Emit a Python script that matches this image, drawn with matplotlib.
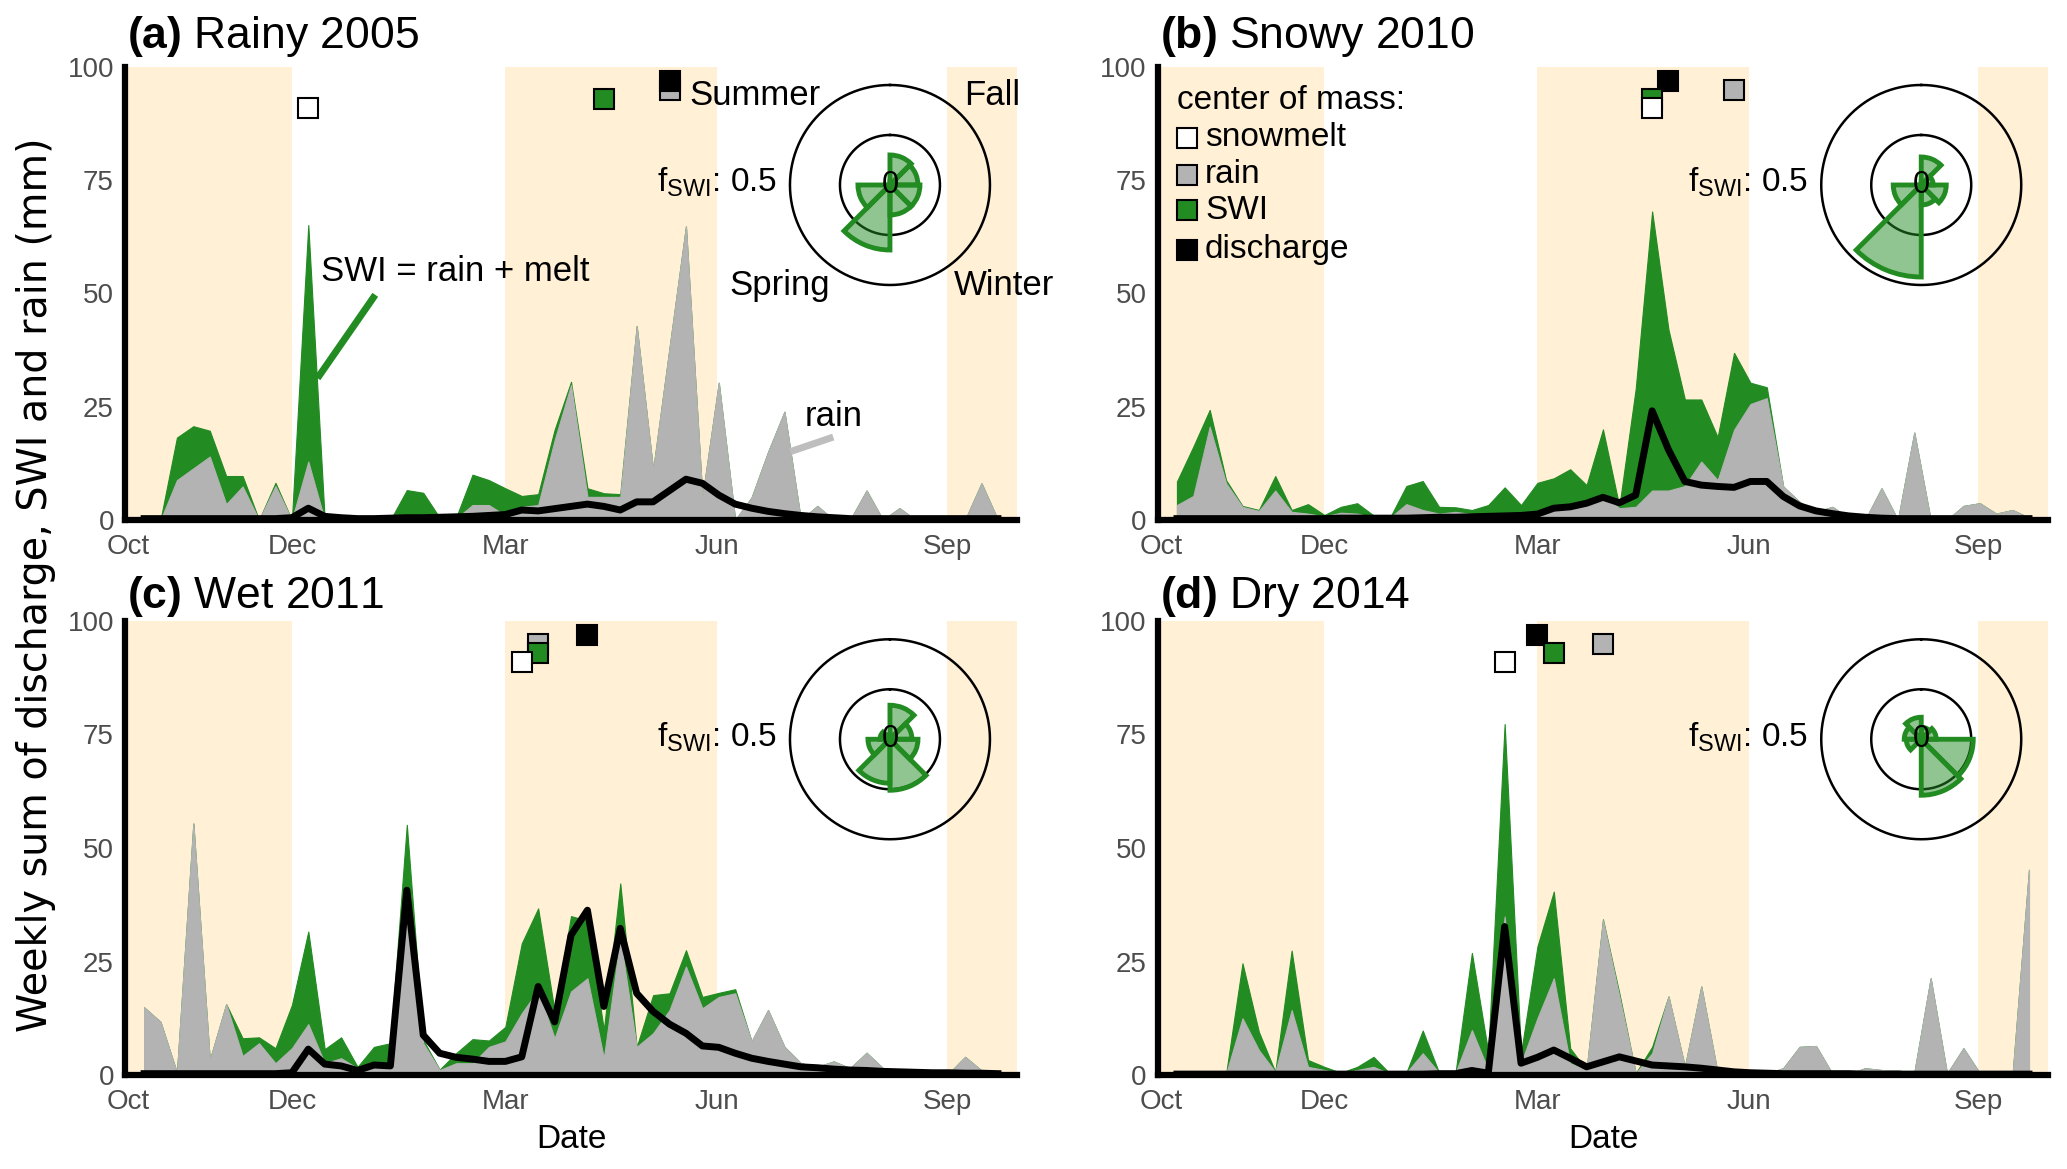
import numpy as np
import matplotlib.pyplot as plt

plt.rcParams['font.family'] = ['Liberation Sans', 'DejaVu Sans']
plt.rcParams['mathtext.fontset'] = 'custom'
plt.rcParams['mathtext.rm'] = 'Liberation Sans'
plt.rcParams['mathtext.bf'] = 'Liberation Sans:bold'
plt.rcParams['mathtext.it'] = 'Liberation Sans:italic'

GREEN = '#228b22'
LIGHT_GREEN = (0.133, 0.545, 0.133, 0.5)
GREY = '#b3b3b3'
SEASON = '#fff0d6'
TICK_GREY = '#4d4d4d'

FIG_W, FIG_H = 2067, 1169

# weekly sums over the water year (week 0 = first week of Oct)
weeks = np.arange(53)
month_ticks = [-0.95, 9.0, 22.0, 34.9, 48.9]
month_labels = ['Oct', 'Dec', 'Mar', 'Jun', 'Sep']

# (a) Rainy 2005
rain_2005 = [0, 0, 8.8, 11.4, 14.0, 3.5, 7.4, 0, 7.5, 0,
             12.9, 0, 0, 0, 0, 0, 0.5, 0.5, 0.3, 0.3,
             3.3, 3.3, 1.0, 2.9, 3.3, 17.6, 29.8, 5.1, 5.1, 5.1,
             42.8, 11.0, 38.0, 64.8, 5.0, 30.3, 0, 5.0, 15.0, 23.9,
             0, 3.1, 0, 0, 6.5, 0, 2.6, 0, 0, 0,
             0, 8.1, 0]
swi_2005 = [0, 0, 18.2, 20.7, 19.7, 9.7, 9.7, 0, 8.2, 0,
            65.1, 0, 0, 0, 0, 0, 6.6, 6.0, 0.5, 0.5,
            10.0, 8.8, 7.0, 5.3, 5.7, 19.9, 30.5, 7.0, 5.9, 5.7,
            42.8, 11.0, 38.0, 64.8, 5.0, 30.3, 0, 5.0, 15.0, 23.9,
            0, 3.1, 0, 0, 6.5, 0, 2.6, 0, 0, 0,
            0, 8.1, 0]
q_2005 = [0.3, 0.3, 0.3, 0.3, 0.3, 0.3, 0.3, 0.3, 0.3, 0.5,
          2.6, 0.8, 0.5, 0.3, 0.3, 0.4, 0.5, 0.5, 0.6, 0.7,
          0.8, 1.0, 1.2, 2.2, 2.0, 2.5, 3.0, 3.5, 3.0, 2.2,
          4.0, 4.0, 6.5, 9.0, 8.1, 5.5, 3.5, 2.6, 1.9, 1.4,
          1.0, 0.7, 0.5, 0.3, 0.3, 0.3, 0.3, 0.3, 0.3, 0.3,
          0.3, 0.3, 0.3]

# (b) Snowy 2010
rain_2010 = [3.3, 5.3, 20.6, 8.1, 2.9, 2.0, 6.5, 1.8, 1.4, 0.8,
             1.6, 1.4, 0.5, 0.5, 3.5, 2.2, 1.4, 1.8, 1.3, 1.3,
             1.2, 1.3, 1.8, 2.9, 3.3, 4.0, 5.5, 2.6, 2.9, 6.5,
             6.5, 7.5, 12.9, 8.8, 19.9, 25.6, 26.9, 7.4, 4.0, 1.8,
             2.9, 0.5, 0, 7.0, 0, 19.3, 0, 0, 3.1, 3.7,
             1.4, 2.2, 0.5]
swi_2010 = [8.5, 16.2, 24.3, 8.8, 3.1, 2.2, 9.7, 2.2, 3.5, 1.1,
            2.9, 3.7, 1.0, 0.5, 7.5, 8.6, 2.9, 2.8, 2.2, 3.3,
            7.2, 3.3, 8.2, 9.2, 11.2, 7.7, 20.0, 3.0, 29.0, 68.1,
            42.0, 26.6, 26.6, 18.3, 36.9, 30.3, 29.3, 7.4, 4.0, 1.8,
            2.9, 0.5, 0, 7.0, 0, 19.3, 0, 0, 3.1, 3.7,
            1.4, 2.2, 0.5]
q_2010 = [0.3, 0.3, 0.3, 0.3, 0.3, 0.3, 0.3, 0.3, 0.3, 0.3,
          0.4, 0.4, 0.4, 0.4, 0.4, 0.5, 0.6, 0.6, 0.7, 0.8,
          0.9, 1.0, 1.3, 2.6, 2.9, 3.7, 5.0, 3.8, 5.5, 24.1,
          15.5, 8.5, 7.7, 7.4, 7.2, 8.5, 8.5, 5.2, 3.1, 2.0,
          1.4, 0.9, 0.6, 0.4, 0.3, 0.3, 0.3, 0.3, 0.3, 0.3,
          0.3, 0.3, 0.3]

# (c) Wet 2011
rain_2011 = [14.9, 11.7, 0.5, 55.4, 3.3, 15.6, 4.2, 7.0, 2.6, 5.9,
             11.2, 2.6, 3.7, 1.5, 1.8, 2.2, 38.0, 7.0, 1.1, 2.6,
             2.6, 6.2, 7.4, 13.6, 18.7, 8.1, 18.4, 21.3, 3.7, 30.1,
             6.2, 9.2, 14.3, 23.9, 14.7, 17.2, 18.0, 7.4, 14.3, 6.2,
             2.6, 1.8, 3.0, 1.5, 4.9, 1.5, 0.5, 0.3, 0.3, 0.3,
             4.0, 1.0, 0.3]
swi_2011 = [14.9, 11.7, 0.5, 55.4, 3.3, 15.6, 8.1, 8.3, 5.9, 15.4,
            31.6, 5.7, 8.3, 1.8, 6.2, 7.0, 55.1, 7.7, 1.2, 4.8,
            7.9, 7.6, 10.6, 29.0, 36.7, 14.0, 35.0, 34.0, 9.9, 42.2,
            6.2, 17.6, 18.0, 27.5, 17.2, 18.1, 18.9, 7.4, 14.3, 6.2,
            2.6, 1.8, 3.0, 1.5, 4.9, 1.5, 0.5, 0.3, 0.3, 0.3,
            4.0, 1.0, 0.3]
q_2011 = [0.3, 0.3, 0.3, 0.3, 0.3, 0.3, 0.3, 0.3, 0.3, 0.5,
          5.7, 2.4, 2.0, 1.0, 2.2, 2.0, 40.7, 8.8, 4.8, 3.9,
          3.5, 3.0, 3.0, 4.0, 19.5, 11.7, 30.8, 36.3, 15.1, 32.3,
          18.0, 14.0, 11.2, 9.2, 6.4, 6.1, 4.8, 3.7, 3.0, 2.4,
          1.8, 1.6, 1.3, 1.1, 1.0, 0.8, 0.7, 0.6, 0.5, 0.5,
          0.4, 0.4, 0.3]

# (d) Dry 2014
rain_2014 = [0, 0, 0, 0.3, 12.5, 5.5, 0.7, 14.3, 1.8, 1.1,
             0.5, 1.1, 1.8, 0.3, 0.5, 4.8, 0.5, 0.5, 9.9, 1.1,
             34.9, 2.6, 12.5, 21.3, 2.6, 1.1, 34.1, 17.3, 0.4, 4.8,
             17.3, 1.8, 19.5, 0.4, 0.2, 0.2, 0.3, 1.5, 6.2, 6.4,
             0.3, 0.2, 1.5, 1.1, 1.0, 0.5, 21.3, 0.3, 5.9, 0.4,
             0.2, 0.2, 45.2]
swi_2014 = [0, 0, 0, 0.3, 24.6, 9.5, 0.7, 27.4, 3.3, 1.8,
            0.5, 1.8, 4.0, 0.3, 0.5, 9.8, 0.5, 0.5, 26.9, 5.0,
            77.3, 4.8, 28.3, 40.4, 5.9, 1.1, 34.3, 18.0, 0.4, 6.2,
            17.3, 1.8, 19.5, 0.4, 0.2, 0.2, 0.3, 1.5, 6.2, 6.4,
            0.3, 0.2, 1.5, 1.1, 1.0, 0.5, 21.3, 0.3, 5.9, 0.4,
            0.2, 0.2, 45.2]
q_2014 = [0.2, 0.2, 0.2, 0.2, 0.2, 0.2, 0.2, 0.2, 0.2, 0.2,
          0.2, 0.2, 0.2, 0.2, 0.2, 0.2, 0.3, 0.3, 1.0, 0.4,
          32.7, 2.6, 3.9, 5.5, 3.7, 1.8, 2.9, 4.0, 3.1, 2.2,
          2.0, 1.8, 1.5, 1.1, 0.7, 0.5, 0.4, 0.3, 0.3, 0.3,
          0.3, 0.3, 0.2, 0.2, 0.2, 0.2, 0.2, 0.2, 0.2, 0.2,
          0.2, 0.2, 0.2]

# center of mass week per panel (a, b, c, d)
com_snowmelt = [10, 29, 23, 20]
com_rain = [32, 34, 24, 26]
com_swi = [28, 29, 24, 23]
com_discharge = [32, 30, 27, 22]

# rose: fraction of SWI in 8 sectors, clockwise from Oct
rose_2005 = [0.30, 0.28, 0.30, 0.30, 0.65, 0.32, 0, 0]
rose_2010 = [0.28, 0.12, 0.25, 0.20, 0.92, 0.28, 0, 0]
rose_2011 = [0.34, 0.22, 0.28, 0.51, 0.44, 0.22, 0.10, 0.05]
rose_2014 = [0.12, 0.15, 0.52, 0.56, 0.05, 0.15, 0.17, 0.22]

XLIM = (-1.16, 53.16)
SEASONS = [(XLIM[0], 9.0), (21.95, 34.9), (48.9, XLIM[1])]
ROSE_X, ROSE_Y, ROSE_PX = 0.8576, 0.7395, 104


def add_rose(fig, ax, radii):
    box = ax.get_position()
    cx = box.x0 + ROSE_X * box.width
    cy = box.y0 + ROSE_Y * box.height
    hw, hh = ROSE_PX / FIG_W, ROSE_PX / FIG_H
    pa = fig.add_axes([cx - hw, cy - hh, 2 * hw, 2 * hh], projection='polar')
    pa.set_theta_zero_location('N')
    pa.set_theta_direction(-1)
    ring = np.linspace(0, 2 * np.pi, 361)
    pa.plot(ring, np.full_like(ring, 1.0), color='black', lw=1.8, zorder=1)
    pa.plot(ring, np.full_like(ring, 0.5), color='black', lw=1.8, zorder=1)
    theta = np.deg2rad(np.arange(8) * 45 + 22.5)
    r = np.array(radii)
    keep = r > 0
    pa.bar(theta[keep], r[keep], width=np.pi / 4, color=LIGHT_GREEN,
           edgecolor=GREEN, lw=3.5, zorder=2)
    pa.text(0, 0, '0', ha='center', va='center', fontsize=22, zorder=3)
    pa.set_ylim(0, ROSE_PX / 100)
    pa.set_axis_off()
    pa.patch.set_alpha(0)


def draw_panel(fig, ax, i, title, title_y, rain, swi, q, rose):
    for x0, x1 in SEASONS:
        ax.axvspan(x0, x1, color=SEASON, lw=0, zorder=0)
    ax.fill_between(weeks, 0, swi, color=GREEN, lw=0.8, zorder=2)
    ax.fill_between(weeks, 0, rain, color=GREY, lw=0.8, zorder=3)
    ax.plot(weeks, q, color='black', lw=5, zorder=4)

    # center of mass squares
    ax.plot(com_rain[i], 95, 's', ms=14, mfc=GREY, mec='black', mew=1.5, zorder=6)
    ax.plot(com_discharge[i], 97, 's', ms=14, mfc='black', mec='black', mew=1.5, zorder=6)
    ax.plot(com_swi[i], 93, 's', ms=14, mfc=GREEN, mec='black', mew=1.5, zorder=6)
    ax.plot(com_snowmelt[i], 91, 's', ms=14, mfc='white', mec='black', mew=1.5, zorder=6)

    ax.set_xlim(*XLIM)
    ax.set_ylim(0, 100)
    ax.set_yticks([0, 25, 50, 75, 100])
    ax.set_xticks(month_ticks)
    ax.set_xticklabels(month_labels)
    ax.tick_params(length=0, labelsize=20, labelcolor=TICK_GREY)
    ax.tick_params(axis='y', pad=8)
    ax.tick_params(axis='x', pad=10)
    for s in ['top', 'right']:
        ax.spines[s].set_visible(False)
    for s in ['left', 'bottom']:
        ax.spines[s].set_linewidth(4.5)
        ax.spines[s].set_zorder(5)

    ax.text(0.002, title_y, title, transform=ax.transAxes, fontsize=32, va='baseline')
    ax.text(0.731, 0.724, r'f$_{\mathrm{SWI}}$: 0.5', transform=ax.transAxes,
            fontsize=24, ha='right', va='baseline')
    add_rose(fig, ax, rose)


fig = plt.figure(figsize=(FIG_W / 100, FIG_H / 100), dpi=100)
ax_a = fig.add_axes([0.0605, 0.5552, 0.4315, 0.3875])
ax_b = fig.add_axes([0.5602, 0.5552, 0.4306, 0.3875])
ax_c = fig.add_axes([0.0605, 0.0804, 0.4315, 0.3884])
ax_d = fig.add_axes([0.5602, 0.0804, 0.4306, 0.3884])

draw_panel(fig, ax_a, 0, r'$\mathbf{(a)}$ Rainy 2005', 1.042, rain_2005, swi_2005, q_2005, rose_2005)
draw_panel(fig, ax_b, 1, r'$\mathbf{(b)}$ Snowy 2010', 1.042, rain_2010, swi_2010, q_2010, rose_2010)
draw_panel(fig, ax_c, 2, r'$\mathbf{(c)}$ Wet 2011', 1.028, rain_2011, swi_2011, q_2011, rose_2011)
draw_panel(fig, ax_d, 3, r'$\mathbf{(d)}$ Dry 2014', 1.028, rain_2014, swi_2014, q_2014, rose_2014)

# seasons and pointers in (a)
for txt, x, y in [('Summer', 0.633, 0.938), ('Fall', 0.941, 0.938),
                  ('Spring', 0.678, 0.517), ('Winter', 0.929, 0.517)]:
    ax_a.text(x, y, txt, transform=ax_a.transAxes, fontsize=25, va='center')
ax_a.text(0.220, 0.549, 'SWI = rain + melt', transform=ax_a.transAxes, fontsize=25, va='center')
ax_a.plot([14.08, 10.56], [49.7, 31.3], color=GREEN, lw=5, zorder=5, solid_capstyle='butt')
ax_a.text(0.762, 0.228, 'rain', transform=ax_a.transAxes, fontsize=25, va='center')
ax_a.plot([41.97, 39.37], [18.3, 15.1], color='#bebebe', lw=5, zorder=5, solid_capstyle='butt')

# legend in (b)
ax_b.text(0.021, 0.927, 'center of mass:', transform=ax_b.transAxes, fontsize=24, va='center')
for lab, fc, y in [('snowmelt', 'white', 0.844), ('rain', GREY, 0.762),
                   ('SWI', GREEN, 0.684), ('discharge', 'black', 0.596)]:
    ax_b.plot(0.033, y, 's', ms=14, mfc=fc, mec='black', mew=1.5, transform=ax_b.transAxes)
    ax_b.text(0.053, y, lab, transform=ax_b.transAxes, fontsize=24, va='center')

for ax in [ax_c, ax_d]:
    ax.text(0.5, -0.143, 'Date', transform=ax.transAxes, fontsize=24, ha='center', va='center')

fig.text(0.0175, 0.5, 'Weekly sum of discharge, SWI and rain (mm)', rotation=90,
         ha='center', va='center', fontsize=28.5, family='DejaVu Sans')

fig.savefig('out.png', dpi=100)
